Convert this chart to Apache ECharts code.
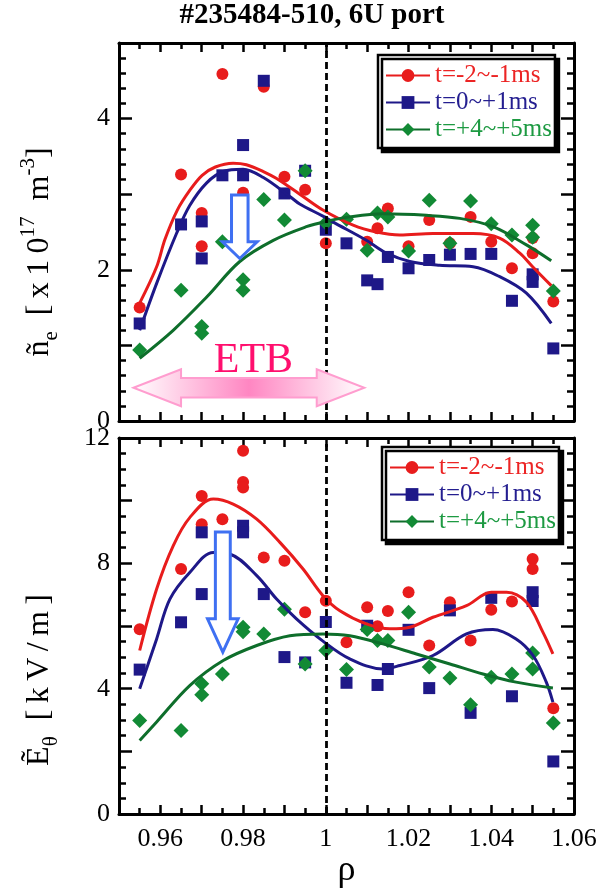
<!DOCTYPE html>
<html>
<head>
<meta charset="utf-8">
<script src="https://cdn.jsdelivr.net/npm/echarts@6/dist/echarts.min.js"></script>
<style>
  html, body { margin: 0; padding: 0; background: #fff; }
  #chart { width: 604px; height: 890px; }
</style>
</head>
<body>
<div id="chart"></div>
<script>
// ---- series names ----
const seriesNames = ['t=-2~-1ms', 't=0~+1ms', 't=+4~+5ms'];

// ---- upper panel: density fluctuation amplitude (x10^17 m^-3) vs rho ----
const neRedPts = [[0.955,1.50],[0.965,3.26],[0.97,2.75],[0.97,2.31],[0.975,4.59],[0.98,3.02],[0.985,4.42],[0.99,3.23],[0.995,3.06],[1.0,2.35],[1.01,2.37],[1.0125,2.55],[1.015,2.81],[1.02,2.31],[1.025,2.66],[1.03,2.35],[1.035,2.70],[1.04,2.37],[1.045,2.02],[1.05,2.42],[1.05,2.22],[1.055,1.58]];
const neBluePts = [[0.955,1.29],[0.965,2.60],[0.97,2.64],[0.97,2.15],[0.975,3.25],[0.98,3.65],[0.98,3.25],[0.985,4.50],[0.99,3.01],[0.995,3.31],[1.0,2.53],[1.005,2.35],[1.01,1.86],[1.0125,1.81],[1.015,2.17],[1.02,2.02],[1.025,2.13],[1.03,2.20],[1.035,2.21],[1.04,2.21],[1.045,1.59],[1.05,1.94],[1.05,1.84],[1.055,0.96]];
const neGreenPts = [[0.955,0.94],[0.965,1.73],[0.97,1.25],[0.97,1.16],[0.975,2.37],[0.98,1.87],[0.98,1.73],[0.985,2.93],[0.99,2.66],[0.995,3.31],[1.0,2.62],[1.005,2.67],[1.01,2.26],[1.0125,2.75],[1.015,2.70],[1.02,2.25],[1.025,2.92],[1.03,2.35],[1.035,2.91],[1.04,2.61],[1.045,2.46],[1.05,2.59],[1.05,2.43],[1.055,1.72]];
const neRedFit = [[0.955,1.56],[0.9591,2.04],[0.9611,2.40],[0.9641,2.79],[0.9671,3.05],[0.9701,3.25],[0.9733,3.36],[0.9776,3.41],[0.9808,3.39],[0.9849,3.30],[0.988,3.21],[0.9937,3.0],[0.9993,2.79],[1.0066,2.59],[1.0122,2.50],[1.0179,2.46],[1.0259,2.48],[1.0356,2.48],[1.042,2.42],[1.0469,2.22],[1.05,2.04],[1.0545,1.79]];
const neBlueFit = [[0.955,1.20],[0.9591,1.82],[0.9639,2.48],[0.9671,2.85],[0.9712,3.15],[0.9752,3.30],[0.98,3.33],[0.9849,3.22],[0.9913,2.97],[0.9937,2.87],[0.9993,2.71],[1.0018,2.63],[1.0098,2.39],[1.0147,2.22],[1.0203,2.11],[1.0275,2.06],[1.0356,2.04],[1.042,1.91],[1.0485,1.69],[1.0545,1.29]];
const neGreenFit = [[0.955,0.83],[0.9631,1.20],[0.9712,1.64],[0.9792,2.11],[0.9873,2.39],[0.9953,2.57],[1.0,2.64],[1.0058,2.70],[1.0138,2.74],[1.0243,2.72],[1.0324,2.68],[1.0404,2.57],[1.0485,2.33],[1.0545,2.12]];

// ---- lower panel: poloidal electric field fluctuation (kV/m) vs rho ----
const eRedPts = [[0.955,5.90],[0.965,7.82],[0.97,10.15],[0.97,9.25],[0.975,9.41],[0.98,11.59],[0.98,10.60],[0.98,10.42],[0.985,8.19],[0.99,8.08],[0.995,6.44],[1.0,6.81],[1.005,5.48],[1.01,6.60],[1.0125,5.99],[1.015,6.48],[1.02,7.08],[1.025,5.38],[1.03,6.76],[1.035,5.54],[1.04,6.52],[1.045,6.78],[1.05,8.14],[1.05,7.82],[1.055,3.38]];
const eBluePts = [[0.955,4.61],[0.965,6.12],[0.97,8.99],[0.97,7.02],[0.98,9.20],[0.98,8.99],[0.985,7.02],[0.99,5.01],[0.995,4.84],[1.0,6.13],[1.005,4.19],[1.01,6.01],[1.0125,4.12],[1.015,4.63],[1.02,5.88],[1.025,4.02],[1.03,6.50],[1.035,3.23],[1.04,6.90],[1.045,3.76],[1.05,7.08],[1.05,6.80],[1.055,1.68]];
const eGreenPts = [[0.955,2.99],[0.965,2.67],[0.97,4.16],[0.97,3.81],[0.975,4.47],[0.98,5.96],[0.98,5.82],[0.985,5.75],[0.99,6.54],[0.995,4.79],[1.0,5.22],[1.005,4.61],[1.01,5.89],[1.0125,5.54],[1.015,5.54],[1.02,6.44],[1.025,4.69],[1.03,4.34],[1.035,3.49],[1.04,4.37],[1.045,4.47],[1.05,5.14],[1.05,4.63],[1.055,2.91]];
const eRedFit = [[0.955,5.22],[0.9591,7.18],[0.9631,8.56],[0.9671,9.46],[0.9728,10.05],[0.9776,9.89],[0.9833,9.41],[0.9889,8.67],[0.9945,7.82],[0.9993,6.97],[1.0034,6.49],[1.0098,6.07],[1.0155,5.91],[1.0203,5.96],[1.0259,6.28],[1.034,6.65],[1.04,7.08],[1.0437,7.08],[1.0485,6.76],[1.0525,5.80],[1.0549,5.11]];
const eBlueFit = [[0.955,4.0],[0.9591,5.59],[0.9623,6.86],[0.9671,7.71],[0.9728,8.35],[0.9768,8.30],[0.9833,7.61],[0.9881,6.86],[0.9929,6.23],[0.9993,5.52],[1.0058,4.95],[1.0138,4.63],[1.0179,4.74],[1.0259,5.06],[1.034,5.75],[1.0404,5.89],[1.046,5.59],[1.0501,5.06],[1.0533,4.21],[1.0549,3.57]];
const eGreenFit = [[0.955,2.35],[0.9591,2.94],[0.9671,4.10],[0.9752,4.90],[0.9833,5.38],[0.9913,5.69],[0.9993,5.75],[1.0058,5.69],[1.0138,5.43],[1.0219,5.11],[1.03,4.79],[1.038,4.47],[1.046,4.21],[1.0549,4.02]];

// ---- axis ranges / ticks ----
const rhoMin = 0.95, rhoMax = 1.06, rhoStep = 0.01;
const neMin = 0, neMax = 5, neStep = 1;
const eMin = 0, eMax = 12, eStep = 2;
const separatrix = 1.0;

// ---- annotations, in data units ----
const etbArrow = { from: 0.9535, to: 1.0093, y: 0.44, halfBody: 0.13, halfHead: 0.245, headLen: 0.0115 };
const dropArrowTop = { x: 0.9792, top: 2.99, headBase: 2.37, tip: 2.15, halfBody: 0.002, halfHead: 0.0042 };
const dropArrowBottom = { x: 0.9751, top: 9.0, headBase: 6.23, tip: 5.17, halfBody: 0.0018, halfHead: 0.0037 };

const RED = '#e81c1c', BLUE = '#1e1888', GREEN = '#128a35', GREEN_LINE = '#0e6e2b';
const SERIF = '"Liberation Serif", "Times New Roman", serif';

const styles = [
  { color: RED, line: RED, symbol: 'circle', size: 12, text: '#ec2424' },
  { color: BLUE, line: BLUE, symbol: 'rect', size: 12, text: '#241e90' },
  { color: GREEN, line: GREEN_LINE, symbol: 'diamond', size: 15, text: '#1d9a42' }
];

function fitSeries(i, data, panel) {
  const s = styles[i];
  return {
    type: 'line', name: seriesNames[i], data: data,
    xAxisIndex: panel * 2, yAxisIndex: panel * 2,
    smooth: 0.35, symbol: s.symbol, symbolSize: s.size, showSymbol: false,
    lineStyle: { color: s.line, width: 3 }, itemStyle: { color: s.color },
    z: 4, silent: true, animation: false
  };
}
function pointSeries(i, data, panel, withDivider) {
  const s = styles[i];
  const o = {
    type: 'scatter', name: seriesNames[i], data: data,
    xAxisIndex: panel * 2, yAxisIndex: panel * 2,
    symbol: s.symbol, symbolSize: s.size, itemStyle: { color: s.color, opacity: 1 },
    z: 2 + i * 0.1, animation: false
  };
  if (withDivider) {
    o.markLine = {
      silent: true, symbol: ['none', 'none'], label: { show: false },
      lineStyle: { color: '#000', type: [7, 4], width: 2.8 },
      data: [{ xAxis: separatrix }], animation: false
    };
  }
  return o;
}

function rhoLabel(v) {
  const r = Math.round(v * 100);
  if (r % 2 !== 0) return '';
  return String(parseFloat((r / 100).toFixed(2)));
}

function xAxisDef(grid, pos, showLabel) {
  return {
    type: 'value', gridIndex: grid, position: pos, min: rhoMin, max: rhoMax, interval: rhoStep,
    axisLine: { show: true, onZero: false, lineStyle: { color: '#000', width: 3 } },
    axisTick: { show: true, inside: true, length: 9, lineStyle: { color: '#000', width: 2.5 } },
    minorTick: { show: true, splitNumber: 2, length: 6, lineStyle: { color: '#000', width: 2.5 } },
    splitLine: { show: false }, minorSplitLine: { show: false },
    axisLabel: { show: showLabel, formatter: rhoLabel, margin: 12, color: '#000', fontFamily: SERIF, fontSize: 26 },
    name: showLabel && pos === 'bottom' ? 'ρ' : '',
    nameLocation: 'middle', nameGap: 34,
    nameTextStyle: { color: '#000', fontFamily: SERIF, fontSize: 36 }
  };
}
function yAxisDef(grid, pos, min, max, step, minorSplit, labelEvery) {
  return {
    type: 'value', gridIndex: grid, position: pos, min: min, max: max, interval: step,
    axisLine: { show: true, onZero: false, lineStyle: { color: '#000', width: 3 } },
    axisTick: { show: true, inside: true, length: 13, lineStyle: { color: '#000', width: 2.5 } },
    minorTick: { show: true, splitNumber: minorSplit, length: 7, lineStyle: { color: '#000', width: 2.5 } },
    splitLine: { show: false }, minorSplitLine: { show: false },
    axisLabel: {
      show: pos === 'left', margin: 9, color: '#000', fontFamily: SERIF, fontSize: 26,
      formatter: v => (Math.round(v) % labelEvery === 0 ? String(Math.round(v)) : '')
    }
  };
}

function legendDef(left, top) {
  return {
    orient: 'vertical', left: left, top: top, padding: [8, 3, 6, 7],
    itemWidth: 44, itemHeight: 16, itemGap: 2, selectedMode: false,
    backgroundColor: '#fff', borderColor: '#000', borderWidth: 2.5, borderRadius: 0,
    shadowColor: '#000', shadowBlur: 0, shadowOffsetX: 4, shadowOffsetY: 4,
    textStyle: { fontFamily: SERIF, fontSize: 25, lineHeight: 25 },
    data: seriesNames.map((n, i) => ({ name: n, textStyle: { color: styles[i].text } }))
  };
}

const chart = echarts.init(document.getElementById('chart'), null, { renderer: 'canvas' });

const option = {
  animation: false,
  backgroundColor: '#fff',
  grid: [
    { left: 119, top: 43, width: 455, height: 378 },
    { left: 119, top: 438, width: 455, height: 378 }
  ],
  xAxis: [
    xAxisDef(0, 'bottom', false), xAxisDef(0, 'top', false),
    xAxisDef(1, 'bottom', true), xAxisDef(1, 'top', false)
  ],
  yAxis: [
    yAxisDef(0, 'left', neMin, neMax, neStep, 5, 2), yAxisDef(0, 'right', neMin, neMax, neStep, 5, 2),
    yAxisDef(1, 'left', eMin, eMax, eStep, 4, 4), yAxisDef(1, 'right', eMin, eMax, eStep, 4, 4)
  ],
  legend: [legendDef(378, 55), legendDef(382, 447)],
  series: [
    fitSeries(0, neRedFit, 0), fitSeries(1, neBlueFit, 0), fitSeries(2, neGreenFit, 0),
    fitSeries(0, eRedFit, 1), fitSeries(1, eBlueFit, 1), fitSeries(2, eGreenFit, 1),
    pointSeries(0, neRedPts, 0, true), pointSeries(1, neBluePts, 0, false), pointSeries(2, neGreenPts, 0, false),
    pointSeries(0, eRedPts, 1, true), pointSeries(1, eBluePts, 1, false), pointSeries(2, eGreenPts, 1, false)
  ]
};
chart.setOption(option);

// ---- overlay: title, axis titles, arrows ----
function px(panel, x, y) {
  return chart.convertToPixel({ xAxisIndex: panel * 2, yAxisIndex: panel * 2 }, [x, y]);
}
function downArrow(panel, a) {
  const pts = [
    [a.x - a.halfBody, a.top], [a.x + a.halfBody, a.top], [a.x + a.halfBody, a.headBase],
    [a.x + a.halfHead, a.headBase], [a.x, a.tip], [a.x - a.halfHead, a.headBase], [a.x - a.halfBody, a.headBase]
  ].map(p => px(panel, p[0], p[1]));
  return {
    type: 'polygon', z: 20, shape: { points: pts },
    style: { fill: '#fff', stroke: '#3f70f2', lineWidth: 3, lineJoin: 'miter' }
  };
}
function doubleArrow(a) {
  const pts = [
    [a.from, a.y], [a.from + a.headLen, a.y + a.halfHead], [a.from + a.headLen, a.y + a.halfBody],
    [a.to - a.headLen, a.y + a.halfBody], [a.to - a.headLen, a.y + a.halfHead], [a.to, a.y],
    [a.to - a.headLen, a.y - a.halfHead], [a.to - a.headLen, a.y - a.halfBody],
    [a.from + a.headLen, a.y - a.halfBody], [a.from + a.headLen, a.y - a.halfHead]
  ].map(p => px(0, p[0], p[1]));
  return {
    type: 'polygon', z: 20, shape: { points: pts },
    style: {
      fill: new echarts.graphic.LinearGradient(0, 0, 1, 0, [
        { offset: 0, color: '#ffffff' }, { offset: 0.5, color: '#ff86c2' }, { offset: 1, color: '#ffffff' }
      ]),
      stroke: '#ff9dcf', lineWidth: 2
    }
  };
}

const etbPos = px(0, 0.9825, 0.80);
const neTitle = '{n|ñ}{sub|e}{t|\u2002[\u2009x\u20091\u20090}{sup|17}{t|\u2002m}{sup|-3}{t|]}';
const eTitle = '{n|Ẽ}{sub|θ}{t|\u2002[\u2009k\u2009V\u2009/\u2009m\u2009]}';
const richTitle = {
  n: { fontFamily: SERIF, fontSize: 32, lineHeight: 44, fill: '#000' },
  t: { fontFamily: SERIF, fontSize: 32, lineHeight: 44, fill: '#000' },
  sup: { fontFamily: SERIF, fontSize: 21, lineHeight: 22, verticalAlign: 'top', fill: '#000' },
  sub: { fontFamily: SERIF, fontSize: 21, lineHeight: 22, verticalAlign: 'bottom', fill: '#000' }
};

chart.setOption({
  graphic: [
    {
      type: 'text', x: 312, y: 16, z: 30,
      style: { text: '#235484-510, 6U port', fill: '#000', font: 'bold 29px ' + SERIF, align: 'center', verticalAlign: 'middle' }
    },
    {
      type: 'text', x: 40, y: 252, rotation: Math.PI / 2, z: 30,
      style: { text: neTitle, rich: richTitle, align: 'center', verticalAlign: 'middle' }
    },
    {
      type: 'text', x: 40, y: 680, rotation: Math.PI / 2, z: 30,
      style: { text: eTitle, rich: richTitle, align: 'center', verticalAlign: 'middle' }
    },
    doubleArrow(etbArrow),
    {
      type: 'text', x: etbPos[0], y: etbPos[1], z: 25,
      style: { text: 'ETB', fill: '#ff0f6e', font: '42px ' + SERIF, align: 'center', verticalAlign: 'middle' }
    },
    downArrow(0, dropArrowTop),
    downArrow(1, dropArrowBottom)
  ]
});
</script>
</body>
</html>
